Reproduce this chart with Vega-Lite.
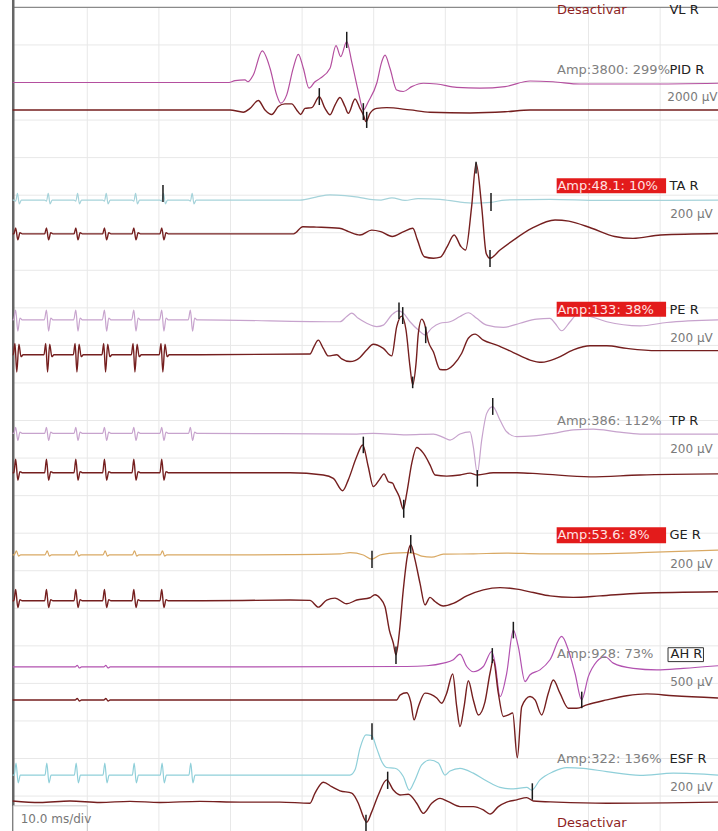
{
"$schema": "https://vega.github.io/schema/vega-lite/v6.json",
"width": 718, "height": 831,
"autosize": {"type": "none"},
"padding": 0,
"background": "white",
"config": {"view": {"stroke": null}},
"datasets": {
"gridx": [{"t":10},{"t":20},{"t":30},{"t":40},{"t":50},{"t":60},{"t":70},{"t":80},{"t":90}],
"gridy": [{"v":1},{"v":2},{"v":3},{"v":4},{"v":5},{"v":6},{"v":7},{"v":8},{"v":9},{"v":10},{"v":11},{"v":12},{"v":13},{"v":14},{"v":15},{"v":16},{"v":17},{"v":18},{"v":19},{"v":20},{"v":21}],
"light": [
{"s":"PID","t":-0.42,"v":2.00},{"s":"PID","t":29.79,"v":2.00},{"s":"PID","t":30.63,"v":1.95},{"s":"PID","t":32.02,"v":1.93},{"s":"PID","t":32.44,"v":1.98},{"s":"PID","t":33.18,"v":1.80},{"s":"PID","t":34.44,"v":1.16},{"s":"PID","t":35.52,"v":1.62},{"s":"PID","t":36.45,"v":2.33},{"s":"PID","t":37.01,"v":2.55},{"s":"PID","t":37.85,"v":2.33},{"s":"PID","t":38.77,"v":1.61},{"s":"PID","t":39.47,"v":1.25},{"s":"PID","t":40.17,"v":1.62},{"s":"PID","t":40.96,"v":2.15},{"s":"PID","t":41.80,"v":1.98},{"s":"PID","t":42.50,"v":1.89},{"s":"PID","t":43.90,"v":1.62},{"s":"PID","t":44.73,"v":1.02},{"s":"PID","t":45.39,"v":1.31},{"s":"PID","t":46.23,"v":0.91},{"s":"PID","t":46.93,"v":1.45},{"s":"PID","t":47.85,"v":2.24},{"s":"PID","t":48.55,"v":2.73},{"s":"PID","t":49.24,"v":2.51},{"s":"PID","t":50.42,"v":2.02},{"s":"PID","t":51.12,"v":1.45},{"s":"PID","t":51.58,"v":1.27},{"s":"PID","t":52.27,"v":1.62},{"s":"PID","t":53.21,"v":2.20},{"s":"PID","t":54.13,"v":2.24},{"s":"PID","t":55.31,"v":2.11},{"s":"PID","t":56.93,"v":2.02},{"s":"PID","t":58.80,"v":2.04},{"s":"PID","t":61.59,"v":2.13},{"s":"PID","t":64.84,"v":2.15},{"s":"PID","t":68.34,"v":2.11},{"s":"PID","t":71.83,"v":1.96},{"s":"PID","t":75.04,"v":1.98},{"s":"PID","t":78.81,"v":2.04},{"s":"PID","t":88.17,"v":2.04},{"s":"PID","t":98.08,"v":2.02},
{"s":"TA","t":-0.42,"v":5.13},
{"s":"TA","t":-0.25,"v":5.13},{"s":"TA","t":0.0,"v":5.16},{"s":"TA","t":0.25,"v":4.95},{"s":"TA","t":0.5,"v":5.23},{"s":"TA","t":0.8,"v":5.13},
{"s":"TA","t":4.05,"v":5.13},{"s":"TA","t":4.3,"v":5.16},{"s":"TA","t":4.55,"v":4.95},{"s":"TA","t":4.8,"v":5.23},{"s":"TA","t":5.1,"v":5.13},
{"s":"TA","t":8.15,"v":5.13},{"s":"TA","t":8.4,"v":5.16},{"s":"TA","t":8.65,"v":4.95},{"s":"TA","t":8.9,"v":5.23},{"s":"TA","t":9.2,"v":5.13},
{"s":"TA","t":12.15,"v":5.13},{"s":"TA","t":12.4,"v":5.16},{"s":"TA","t":12.65,"v":4.95},{"s":"TA","t":12.9,"v":5.23},{"s":"TA","t":13.2,"v":5.13},
{"s":"TA","t":16.25,"v":5.13},{"s":"TA","t":16.5,"v":5.16},{"s":"TA","t":16.75,"v":4.95},{"s":"TA","t":17.0,"v":5.23},{"s":"TA","t":17.3,"v":5.13},
{"s":"TA","t":20.15,"v":5.13},{"s":"TA","t":20.4,"v":5.16},{"s":"TA","t":20.65,"v":4.95},{"s":"TA","t":20.9,"v":5.23},{"s":"TA","t":21.2,"v":5.13},
{"s":"TA","t":24.15,"v":5.13},{"s":"TA","t":24.4,"v":5.16},{"s":"TA","t":24.65,"v":4.95},{"s":"TA","t":24.9,"v":5.23},{"s":"TA","t":25.2,"v":5.13},
{"s":"TA","t":25.74,"v":5.13},{"s":"TA","t":39.71,"v":5.13},{"s":"TA","t":41.94,"v":5.05},{"s":"TA","t":43.90,"v":4.99},{"s":"TA","t":45.99,"v":5.01},{"s":"TA","t":47.81,"v":5.05},{"s":"TA","t":49.48,"v":5.11},{"s":"TA","t":51.02,"v":5.13},{"s":"TA","t":52.55,"v":5.07},{"s":"TA","t":54.37,"v":5.14},{"s":"TA","t":56.19,"v":5.09},{"s":"TA","t":59.26,"v":5.11},{"s":"TA","t":61.91,"v":5.18},{"s":"TA","t":64.14,"v":5.21},{"s":"TA","t":66.38,"v":5.19},{"s":"TA","t":68.34,"v":5.13},{"s":"TA","t":74.62,"v":5.11},{"s":"TA","t":81.60,"v":5.14},{"s":"TA","t":88.59,"v":5.14},{"s":"TA","t":98.08,"v":5.13},
{"s":"PE","t":-0.42,"v":8.32},
{"s":"PE","t":-0.3,"v":8.32},{"s":"PE","t":0.0,"v":8.06},{"s":"PE","t":0.3,"v":8.62},{"s":"PE","t":0.6,"v":8.27},{"s":"PE","t":0.9,"v":8.32},
{"s":"PE","t":4.0,"v":8.32},{"s":"PE","t":4.3,"v":8.06},{"s":"PE","t":4.6,"v":8.62},{"s":"PE","t":4.9,"v":8.27},{"s":"PE","t":5.2,"v":8.32},
{"s":"PE","t":8.1,"v":8.32},{"s":"PE","t":8.4,"v":8.06},{"s":"PE","t":8.7,"v":8.62},{"s":"PE","t":9.0,"v":8.27},{"s":"PE","t":9.3,"v":8.32},
{"s":"PE","t":12.1,"v":8.32},{"s":"PE","t":12.4,"v":8.06},{"s":"PE","t":12.7,"v":8.62},{"s":"PE","t":13.0,"v":8.27},{"s":"PE","t":13.3,"v":8.32},
{"s":"PE","t":16.2,"v":8.32},{"s":"PE","t":16.5,"v":8.06},{"s":"PE","t":16.8,"v":8.62},{"s":"PE","t":17.1,"v":8.27},{"s":"PE","t":17.4,"v":8.32},
{"s":"PE","t":20.1,"v":8.32},{"s":"PE","t":20.4,"v":8.06},{"s":"PE","t":20.7,"v":8.62},{"s":"PE","t":21.0,"v":8.27},{"s":"PE","t":21.3,"v":8.32},
{"s":"PE","t":24.1,"v":8.32},{"s":"PE","t":24.4,"v":8.06},{"s":"PE","t":24.7,"v":8.62},{"s":"PE","t":25.0,"v":8.27},{"s":"PE","t":25.3,"v":8.32},
{"s":"PE","t":25.74,"v":8.32},{"s":"PE","t":45.29,"v":8.37},{"s":"PE","t":46.23,"v":8.23},{"s":"PE","t":46.93,"v":8.14},{"s":"PE","t":47.85,"v":8.28},{"s":"PE","t":49.02,"v":8.41},{"s":"PE","t":50.42,"v":8.50},{"s":"PE","t":51.34,"v":8.46},{"s":"PE","t":52.51,"v":8.19},{"s":"PE","t":53.43,"v":8.08},{"s":"PE","t":54.13,"v":8.14},{"s":"PE","t":55.07,"v":8.37},{"s":"PE","t":56.23,"v":8.59},{"s":"PE","t":57.16,"v":8.72},{"s":"PE","t":58.10,"v":8.54},{"s":"PE","t":59.26,"v":8.41},{"s":"PE","t":60.66,"v":8.37},{"s":"PE","t":62.05,"v":8.23},{"s":"PE","t":63.21,"v":8.13},{"s":"PE","t":64.38,"v":8.28},{"s":"PE","t":65.78,"v":8.46},{"s":"PE","t":68.10,"v":8.52},{"s":"PE","t":70.43,"v":8.41},{"s":"PE","t":72.76,"v":8.30},{"s":"PE","t":74.62,"v":8.28},{"s":"PE","t":75.32,"v":8.41},{"s":"PE","t":76.25,"v":8.61},{"s":"PE","t":77.42,"v":8.37},{"s":"PE","t":78.35,"v":8.19},{"s":"PE","t":80.21,"v":8.23},{"s":"PE","t":82.54,"v":8.37},{"s":"PE","t":87.19,"v":8.48},{"s":"PE","t":90.92,"v":8.39},{"s":"PE","t":98.08,"v":8.32},
{"s":"TP","t":-0.42,"v":11.34},
{"s":"TP","t":-0.25,"v":11.34},{"s":"TP","t":0.0,"v":11.18},{"s":"TP","t":0.3,"v":11.53},{"s":"TP","t":0.6,"v":11.31},{"s":"TP","t":0.9,"v":11.34},
{"s":"TP","t":4.05,"v":11.34},{"s":"TP","t":4.3,"v":11.18},{"s":"TP","t":4.6,"v":11.53},{"s":"TP","t":4.9,"v":11.31},{"s":"TP","t":5.2,"v":11.34},
{"s":"TP","t":8.15,"v":11.34},{"s":"TP","t":8.4,"v":11.18},{"s":"TP","t":8.7,"v":11.53},{"s":"TP","t":9.0,"v":11.31},{"s":"TP","t":9.3,"v":11.34},
{"s":"TP","t":12.15,"v":11.34},{"s":"TP","t":12.4,"v":11.18},{"s":"TP","t":12.7,"v":11.53},{"s":"TP","t":13.0,"v":11.31},{"s":"TP","t":13.3,"v":11.34},
{"s":"TP","t":16.25,"v":11.34},{"s":"TP","t":16.5,"v":11.18},{"s":"TP","t":16.8,"v":11.53},{"s":"TP","t":17.1,"v":11.31},{"s":"TP","t":17.4,"v":11.34},
{"s":"TP","t":20.15,"v":11.34},{"s":"TP","t":20.4,"v":11.18},{"s":"TP","t":20.7,"v":11.53},{"s":"TP","t":21.0,"v":11.31},{"s":"TP","t":21.3,"v":11.34},
{"s":"TP","t":24.15,"v":11.34},{"s":"TP","t":24.4,"v":11.18},{"s":"TP","t":24.7,"v":11.53},{"s":"TP","t":25.0,"v":11.31},{"s":"TP","t":25.3,"v":11.34},
{"s":"TP","t":25.74,"v":11.34},{"s":"TP","t":47.63,"v":11.36},{"s":"TP","t":49.94,"v":11.34},{"s":"TP","t":54.61,"v":11.38},{"s":"TP","t":58.33,"v":11.36},{"s":"TP","t":59.72,"v":11.45},{"s":"TP","t":60.66,"v":11.52},{"s":"TP","t":62.05,"v":11.36},{"s":"TP","t":63.45,"v":11.30},{"s":"TP","t":63.91,"v":11.70},{"s":"TP","t":64.47,"v":12.40},{"s":"TP","t":65.08,"v":11.52},{"s":"TP","t":65.78,"v":10.81},{"s":"TP","t":66.62,"v":10.63},{"s":"TP","t":67.64,"v":10.99},{"s":"TP","t":68.57,"v":11.30},{"s":"TP","t":69.97,"v":11.43},{"s":"TP","t":72.29,"v":11.41},{"s":"TP","t":75.08,"v":11.34},{"s":"TP","t":77.87,"v":11.25},{"s":"TP","t":80.67,"v":11.23},{"s":"TP","t":83.94,"v":11.30},{"s":"TP","t":87.19,"v":11.36},{"s":"TP","t":98.08,"v":11.36},
{"s":"GE","t":-0.42,"v":14.58},
{"s":"GE","t":-0.2,"v":14.58},{"s":"GE","t":0.1,"v":14.47},{"s":"GE","t":0.4,"v":14.61},{"s":"GE","t":0.7,"v":14.58},
{"s":"GE","t":4.1,"v":14.58},{"s":"GE","t":4.4,"v":14.47},{"s":"GE","t":4.7,"v":14.61},{"s":"GE","t":5.0,"v":14.58},
{"s":"GE","t":8.2,"v":14.58},{"s":"GE","t":8.5,"v":14.47},{"s":"GE","t":8.8,"v":14.61},{"s":"GE","t":9.1,"v":14.58},
{"s":"GE","t":12.2,"v":14.58},{"s":"GE","t":12.5,"v":14.47},{"s":"GE","t":12.8,"v":14.61},{"s":"GE","t":13.1,"v":14.58},
{"s":"GE","t":16.3,"v":14.58},{"s":"GE","t":16.6,"v":14.47},{"s":"GE","t":16.9,"v":14.61},{"s":"GE","t":17.2,"v":14.58},
{"s":"GE","t":20.2,"v":14.58},{"s":"GE","t":20.5,"v":14.47},{"s":"GE","t":20.8,"v":14.61},{"s":"GE","t":21.1,"v":14.58},
{"s":"GE","t":25.74,"v":14.58},{"s":"GE","t":38.31,"v":14.57},{"s":"GE","t":45.29,"v":14.55},{"s":"GE","t":46.69,"v":14.52},{"s":"GE","t":48.55,"v":14.58},{"s":"GE","t":49.72,"v":14.69},{"s":"GE","t":50.88,"v":14.58},{"s":"GE","t":52.74,"v":14.53},{"s":"GE","t":54.61,"v":14.52},{"s":"GE","t":55.53,"v":14.53},{"s":"GE","t":56.70,"v":14.61},{"s":"GE","t":58.10,"v":14.64},{"s":"GE","t":59.72,"v":14.56},{"s":"GE","t":63.91,"v":14.55},{"s":"GE","t":68.57,"v":14.53},{"s":"GE","t":73.22,"v":14.55},{"s":"GE","t":77.87,"v":14.55},{"s":"GE","t":87.19,"v":14.52},{"s":"GE","t":98.08,"v":14.45},
{"s":"AH","t":-0.42,"v":17.56},{"s":"AH","t":8.3,"v":17.56},{"s":"AH","t":8.6,"v":17.52},{"s":"AH","t":8.9,"v":17.59},{"s":"AH","t":9.2,"v":17.56},{"s":"AH","t":12.3,"v":17.56},{"s":"AH","t":12.6,"v":17.52},{"s":"AH","t":12.9,"v":17.59},{"s":"AH","t":13.2,"v":17.56},{"s":"AH","t":31.33,"v":17.56},{"s":"AH","t":54.61,"v":17.55},{"s":"AH","t":57.40,"v":17.53},{"s":"AH","t":59.72,"v":17.46},{"s":"AH","t":61.12,"v":17.37},{"s":"AH","t":62.05,"v":17.22},{"s":"AH","t":62.99,"v":17.55},{"s":"AH","t":63.91,"v":17.69},{"s":"AH","t":65.31,"v":17.55},{"s":"AH","t":66.48,"v":17.15},{"s":"AH","t":66.94,"v":17.46},{"s":"AH","t":67.64,"v":18.35},{"s":"AH","t":68.57,"v":17.73},{"s":"AH","t":69.50,"v":16.58},{"s":"AH","t":70.19,"v":17.02},{"s":"AH","t":71.13,"v":17.95},{"s":"AH","t":71.83,"v":17.77},{"s":"AH","t":73.22,"v":17.64},{"s":"AH","t":74.62,"v":17.37},{"s":"AH","t":76.25,"v":16.75},{"s":"AH","t":77.18,"v":17.11},{"s":"AH","t":78.11,"v":17.73},{"s":"AH","t":79.05,"v":18.44},{"s":"AH","t":79.97,"v":17.82},{"s":"AH","t":81.14,"v":17.42},{"s":"AH","t":82.30,"v":17.29},{"s":"AH","t":83.46,"v":17.46},{"s":"AH","t":86.25,"v":17.60},{"s":"AH","t":89.52,"v":17.64},{"s":"AH","t":93.24,"v":17.60},{"s":"AH","t":98.08,"v":17.53},
{"s":"ESF","t":-0.42,"v":20.44},
{"s":"ESF","t":-0.2,"v":20.44},{"s":"ESF","t":0.05,"v":20.12},{"s":"ESF","t":0.35,"v":20.65},{"s":"ESF","t":0.65,"v":20.44},
{"s":"ESF","t":4.1,"v":20.44},{"s":"ESF","t":4.35,"v":20.12},{"s":"ESF","t":4.65,"v":20.65},{"s":"ESF","t":4.95,"v":20.44},
{"s":"ESF","t":8.2,"v":20.44},{"s":"ESF","t":8.45,"v":20.12},{"s":"ESF","t":8.75,"v":20.65},{"s":"ESF","t":9.05,"v":20.44},
{"s":"ESF","t":12.2,"v":20.44},{"s":"ESF","t":12.45,"v":20.12},{"s":"ESF","t":12.75,"v":20.65},{"s":"ESF","t":13.05,"v":20.44},
{"s":"ESF","t":16.3,"v":20.44},{"s":"ESF","t":16.55,"v":20.12},{"s":"ESF","t":16.85,"v":20.65},{"s":"ESF","t":17.15,"v":20.44},
{"s":"ESF","t":20.2,"v":20.44},{"s":"ESF","t":20.45,"v":20.12},{"s":"ESF","t":20.75,"v":20.65},{"s":"ESF","t":21.05,"v":20.44},
{"s":"ESF","t":24.2,"v":20.44},{"s":"ESF","t":24.45,"v":20.12},{"s":"ESF","t":24.75,"v":20.65},{"s":"ESF","t":25.05,"v":20.44},
{"s":"ESF","t":25.74,"v":20.44},{"s":"ESF","t":46.69,"v":20.44},{"s":"ESF","t":47.39,"v":20.30},{"s":"ESF","t":48.08,"v":19.73},{"s":"ESF","t":48.92,"v":19.37},{"s":"ESF","t":49.72,"v":19.39},{"s":"ESF","t":50.42,"v":19.73},{"s":"ESF","t":51.12,"v":20.08},{"s":"ESF","t":51.81,"v":20.24},{"s":"ESF","t":52.97,"v":20.26},{"s":"ESF","t":54.13,"v":20.48},{"s":"ESF","t":54.97,"v":20.84},{"s":"ESF","t":55.77,"v":20.57},{"s":"ESF","t":56.70,"v":20.17},{"s":"ESF","t":57.86,"v":20.04},{"s":"ESF","t":59.02,"v":20.12},{"s":"ESF","t":59.96,"v":20.44},{"s":"ESF","t":60.66,"v":20.33},{"s":"ESF","t":62.05,"v":20.26},{"s":"ESF","t":63.91,"v":20.39},{"s":"ESF","t":65.78,"v":20.60},{"s":"ESF","t":67.64,"v":20.77},{"s":"ESF","t":69.50,"v":20.81},{"s":"ESF","t":71.37,"v":20.77},{"s":"ESF","t":72.06,"v":20.84},{"s":"ESF","t":73.22,"v":20.57},{"s":"ESF","t":75.08,"v":20.35},{"s":"ESF","t":76.95,"v":20.24},{"s":"ESF","t":79.27,"v":20.26},{"s":"ESF","t":82.54,"v":20.35},{"s":"ESF","t":87.19,"v":20.45},{"s":"ESF","t":91.84,"v":20.39},{"s":"ESF","t":98.08,"v":20.44}
],
"dark": [
{"s":"PID","t":-0.42,"v":2.73},{"s":"PID","t":29.93,"v":2.73},{"s":"PID","t":31.79,"v":2.79},{"s":"PID","t":32.72,"v":2.69},{"s":"PID","t":33.88,"v":2.48},{"s":"PID","t":34.82,"v":2.73},{"s":"PID","t":35.75,"v":2.85},{"s":"PID","t":36.67,"v":2.64},{"s":"PID","t":37.61,"v":2.57},{"s":"PID","t":38.55,"v":2.57},{"s":"PID","t":39.24,"v":2.73},{"s":"PID","t":39.80,"v":2.85},{"s":"PID","t":40.40,"v":2.69},{"s":"PID","t":41.34,"v":2.67},{"s":"PID","t":42.40,"v":2.38},{"s":"PID","t":43.20,"v":2.69},{"s":"PID","t":43.90,"v":2.86},{"s":"PID","t":44.59,"v":2.60},{"s":"PID","t":45.29,"v":2.40},{"s":"PID","t":45.99,"v":2.64},{"s":"PID","t":46.45,"v":2.82},{"s":"PID","t":47.39,"v":2.44},{"s":"PID","t":48.08,"v":2.69},{"s":"PID","t":48.55,"v":2.86},{"s":"PID","t":48.92,"v":3.04},{"s":"PID","t":49.48,"v":2.82},{"s":"PID","t":50.42,"v":2.69},{"s":"PID","t":51.81,"v":2.67},{"s":"PID","t":55.07,"v":2.73},{"s":"PID","t":57.86,"v":2.79},{"s":"PID","t":63.45,"v":2.81},{"s":"PID","t":68.34,"v":2.78},{"s":"PID","t":71.83,"v":2.73},{"s":"PID","t":98.08,"v":2.73},
{"s":"TA","t":-0.42,"v":6.03},
{"s":"TA","t":-0.25,"v":6.03},{"s":"TA","t":0.0,"v":5.87},{"s":"TA","t":0.3,"v":6.19},{"s":"TA","t":0.6,"v":6.00},{"s":"TA","t":0.9,"v":6.03},
{"s":"TA","t":4.05,"v":6.03},{"s":"TA","t":4.3,"v":5.87},{"s":"TA","t":4.6,"v":6.19},{"s":"TA","t":4.9,"v":6.00},{"s":"TA","t":5.2,"v":6.03},
{"s":"TA","t":8.15,"v":6.03},{"s":"TA","t":8.4,"v":5.87},{"s":"TA","t":8.7,"v":6.19},{"s":"TA","t":9.0,"v":6.00},{"s":"TA","t":9.3,"v":6.03},
{"s":"TA","t":12.15,"v":6.03},{"s":"TA","t":12.4,"v":5.87},{"s":"TA","t":12.7,"v":6.19},{"s":"TA","t":13.0,"v":6.00},{"s":"TA","t":13.3,"v":6.03},
{"s":"TA","t":16.25,"v":6.03},{"s":"TA","t":16.5,"v":5.87},{"s":"TA","t":16.8,"v":6.19},{"s":"TA","t":17.1,"v":6.00},{"s":"TA","t":17.4,"v":6.03},
{"s":"TA","t":20.15,"v":6.03},{"s":"TA","t":20.4,"v":5.87},{"s":"TA","t":20.7,"v":6.19},{"s":"TA","t":21.0,"v":6.00},{"s":"TA","t":21.3,"v":6.03},
{"s":"TA","t":25.74,"v":6.03},{"s":"TA","t":38.81,"v":6.03},{"s":"TA","t":40.10,"v":5.84},{"s":"TA","t":42.01,"v":5.85},{"s":"TA","t":45.21,"v":5.88},{"s":"TA","t":46.49,"v":5.97},{"s":"TA","t":48.08,"v":6.06},{"s":"TA","t":49.71,"v":5.93},{"s":"TA","t":50.98,"v":5.97},{"s":"TA","t":52.58,"v":6.10},{"s":"TA","t":54.19,"v":5.97},{"s":"TA","t":55.46,"v":5.88},{"s":"TA","t":56.10,"v":6.19},{"s":"TA","t":57.07,"v":6.64},{"s":"TA","t":58.35,"v":6.68},{"s":"TA","t":59.31,"v":6.65},{"s":"TA","t":60.26,"v":6.37},{"s":"TA","t":61.23,"v":6.06},{"s":"TA","t":62.19,"v":6.37},{"s":"TA","t":62.83,"v":6.46},{"s":"TA","t":63.67,"v":5.31},{"s":"TA","t":64.30,"v":4.15},{"s":"TA","t":65.08,"v":5.31},{"s":"TA","t":65.71,"v":6.55},{"s":"TA","t":66.23,"v":6.68},{"s":"TA","t":67.64,"v":6.46},{"s":"TA","t":69.56,"v":6.19},{"s":"TA","t":72.12,"v":5.88},{"s":"TA","t":75.32,"v":5.66},{"s":"TA","t":77.25,"v":5.69},{"s":"TA","t":80.44,"v":5.88},{"s":"TA","t":83.66,"v":6.10},{"s":"TA","t":86.21,"v":6.15},{"s":"TA","t":90.07,"v":6.06},{"s":"TA","t":98.08,"v":6.02},
{"s":"PE","t":-0.42,"v":9.25},
{"s":"PE","t":-0.35,"v":9.25},{"s":"PE","t":-0.1,"v":8.95},{"s":"PE","t":0.15,"v":9.71},{"s":"PE","t":0.45,"v":8.97},{"s":"PE","t":0.75,"v":9.30},{"s":"PE","t":1.05,"v":9.25},
{"s":"PE","t":3.95,"v":9.25},{"s":"PE","t":4.2,"v":8.95},{"s":"PE","t":4.45,"v":9.71},{"s":"PE","t":4.75,"v":8.97},{"s":"PE","t":5.05,"v":9.30},{"s":"PE","t":5.35,"v":9.25},
{"s":"PE","t":8.05,"v":9.25},{"s":"PE","t":8.3,"v":8.95},{"s":"PE","t":8.55,"v":9.71},{"s":"PE","t":8.85,"v":8.97},{"s":"PE","t":9.15,"v":9.30},{"s":"PE","t":9.45,"v":9.25},
{"s":"PE","t":12.05,"v":9.25},{"s":"PE","t":12.3,"v":8.95},{"s":"PE","t":12.55,"v":9.71},{"s":"PE","t":12.85,"v":8.97},{"s":"PE","t":13.15,"v":9.30},{"s":"PE","t":13.45,"v":9.25},
{"s":"PE","t":16.15,"v":9.25},{"s":"PE","t":16.4,"v":8.95},{"s":"PE","t":16.65,"v":9.71},{"s":"PE","t":16.95,"v":8.97},{"s":"PE","t":17.25,"v":9.30},{"s":"PE","t":17.55,"v":9.25},
{"s":"PE","t":20.05,"v":9.25},{"s":"PE","t":20.3,"v":8.95},{"s":"PE","t":20.55,"v":9.71},{"s":"PE","t":20.85,"v":8.97},{"s":"PE","t":21.15,"v":9.30},{"s":"PE","t":21.45,"v":9.25},
{"s":"PE","t":25.74,"v":9.25},{"s":"PE","t":41.10,"v":9.23},{"s":"PE","t":41.66,"v":9.03},{"s":"PE","t":42.26,"v":8.86},{"s":"PE","t":42.96,"v":9.08},{"s":"PE","t":43.66,"v":9.28},{"s":"PE","t":44.83,"v":9.25},{"s":"PE","t":45.53,"v":9.36},{"s":"PE","t":46.69,"v":9.43},{"s":"PE","t":48.08,"v":9.32},{"s":"PE","t":49.02,"v":9.12},{"s":"PE","t":49.94,"v":8.97},{"s":"PE","t":51.34,"v":9.08},{"s":"PE","t":52.51,"v":9.28},{"s":"PE","t":53.21,"v":8.50},{"s":"PE","t":53.91,"v":8.22},{"s":"PE","t":54.51,"v":8.59},{"s":"PE","t":55.07,"v":9.57},{"s":"PE","t":55.44,"v":10.05},{"s":"PE","t":55.91,"v":9.48},{"s":"PE","t":56.23,"v":8.68},{"s":"PE","t":56.70,"v":8.30},{"s":"PE","t":57.07,"v":8.41},{"s":"PE","t":57.63,"v":8.90},{"s":"PE","t":58.33,"v":9.17},{"s":"PE","t":59.26,"v":9.64},{"s":"PE","t":59.96,"v":9.65},{"s":"PE","t":61.12,"v":9.52},{"s":"PE","t":62.29,"v":9.21},{"s":"PE","t":63.21,"v":8.81},{"s":"PE","t":64.15,"v":8.70},{"s":"PE","t":65.31,"v":8.86},{"s":"PE","t":67.18,"v":8.99},{"s":"PE","t":69.50,"v":9.19},{"s":"PE","t":71.83,"v":9.39},{"s":"PE","t":73.46,"v":9.45},{"s":"PE","t":75.56,"v":9.34},{"s":"PE","t":77.87,"v":9.12},{"s":"PE","t":80.21,"v":9.01},{"s":"PE","t":82.54,"v":9.01},{"s":"PE","t":85.33,"v":9.08},{"s":"PE","t":89.52,"v":9.14},{"s":"PE","t":98.08,"v":9.14},
{"s":"TP","t":-0.42,"v":12.39},
{"s":"TP","t":-0.25,"v":12.39},{"s":"TP","t":0.0,"v":12.03},{"s":"TP","t":0.3,"v":12.59},{"s":"TP","t":0.6,"v":12.36},{"s":"TP","t":0.9,"v":12.39},
{"s":"TP","t":4.05,"v":12.39},{"s":"TP","t":4.3,"v":12.03},{"s":"TP","t":4.6,"v":12.59},{"s":"TP","t":4.9,"v":12.36},{"s":"TP","t":5.2,"v":12.39},
{"s":"TP","t":8.15,"v":12.39},{"s":"TP","t":8.4,"v":12.03},{"s":"TP","t":8.7,"v":12.59},{"s":"TP","t":9.0,"v":12.36},{"s":"TP","t":9.3,"v":12.39},
{"s":"TP","t":12.15,"v":12.39},{"s":"TP","t":12.4,"v":12.03},{"s":"TP","t":12.7,"v":12.59},{"s":"TP","t":13.0,"v":12.36},{"s":"TP","t":13.3,"v":12.39},
{"s":"TP","t":16.25,"v":12.39},{"s":"TP","t":16.5,"v":12.03},{"s":"TP","t":16.8,"v":12.59},{"s":"TP","t":17.1,"v":12.36},{"s":"TP","t":17.4,"v":12.39},
{"s":"TP","t":20.15,"v":12.39},{"s":"TP","t":20.4,"v":12.03},{"s":"TP","t":20.7,"v":12.59},{"s":"TP","t":21.0,"v":12.36},{"s":"TP","t":21.3,"v":12.39},
{"s":"TP","t":25.74,"v":12.39},{"s":"TP","t":38.31,"v":12.39},{"s":"TP","t":42.96,"v":12.45},{"s":"TP","t":44.36,"v":12.54},{"s":"TP","t":45.67,"v":12.87},{"s":"TP","t":46.45,"v":12.58},{"s":"TP","t":47.63,"v":11.96},{"s":"TP","t":48.46,"v":11.65},{"s":"TP","t":49.24,"v":12.23},{"s":"TP","t":49.94,"v":12.76},{"s":"TP","t":50.78,"v":12.58},{"s":"TP","t":51.44,"v":12.42},{"s":"TP","t":52.04,"v":12.63},{"s":"TP","t":52.65,"v":12.67},{"s":"TP","t":52.97,"v":12.80},{"s":"TP","t":53.57,"v":13.03},{"s":"TP","t":54.13,"v":13.36},{"s":"TP","t":54.61,"v":12.94},{"s":"TP","t":55.31,"v":12.14},{"s":"TP","t":56.00,"v":11.72},{"s":"TP","t":56.93,"v":11.87},{"s":"TP","t":57.86,"v":12.18},{"s":"TP","t":58.56,"v":12.45},{"s":"TP","t":60.19,"v":12.48},{"s":"TP","t":62.05,"v":12.45},{"s":"TP","t":63.45,"v":12.40},{"s":"TP","t":64.47,"v":12.45},{"s":"TP","t":66.70,"v":12.39},{"s":"TP","t":69.97,"v":12.39},{"s":"TP","t":73.22,"v":12.42},{"s":"TP","t":80.21,"v":12.50},{"s":"TP","t":87.19,"v":12.45},{"s":"TP","t":98.08,"v":12.42},
{"s":"GE","t":-0.42,"v":15.80},
{"s":"GE","t":-0.25,"v":15.80},{"s":"GE","t":0.0,"v":15.50},{"s":"GE","t":0.3,"v":15.98},{"s":"GE","t":0.6,"v":15.77},{"s":"GE","t":0.9,"v":15.80},
{"s":"GE","t":4.05,"v":15.80},{"s":"GE","t":4.3,"v":15.50},{"s":"GE","t":4.6,"v":15.98},{"s":"GE","t":4.9,"v":15.77},{"s":"GE","t":5.2,"v":15.80},
{"s":"GE","t":8.15,"v":15.80},{"s":"GE","t":8.4,"v":15.50},{"s":"GE","t":8.7,"v":15.98},{"s":"GE","t":9.0,"v":15.77},{"s":"GE","t":9.3,"v":15.80},
{"s":"GE","t":12.15,"v":15.80},{"s":"GE","t":12.4,"v":15.50},{"s":"GE","t":12.7,"v":15.98},{"s":"GE","t":13.0,"v":15.77},{"s":"GE","t":13.3,"v":15.80},
{"s":"GE","t":16.25,"v":15.80},{"s":"GE","t":16.5,"v":15.50},{"s":"GE","t":16.8,"v":15.98},{"s":"GE","t":17.1,"v":15.77},{"s":"GE","t":17.4,"v":15.80},
{"s":"GE","t":20.15,"v":15.80},{"s":"GE","t":20.4,"v":15.50},{"s":"GE","t":20.7,"v":15.98},{"s":"GE","t":21.0,"v":15.77},{"s":"GE","t":21.3,"v":15.80},
{"s":"GE","t":25.74,"v":15.80},{"s":"GE","t":38.31,"v":15.78},{"s":"GE","t":41.10,"v":15.79},{"s":"GE","t":42.26,"v":15.97},{"s":"GE","t":43.43,"v":15.78},{"s":"GE","t":44.59,"v":15.73},{"s":"GE","t":46.23,"v":15.88},{"s":"GE","t":47.63,"v":15.78},{"s":"GE","t":49.48,"v":15.72},{"s":"GE","t":50.18,"v":15.64},{"s":"GE","t":50.88,"v":15.73},{"s":"GE","t":51.58,"v":15.96},{"s":"GE","t":52.18,"v":16.58},{"s":"GE","t":52.74,"v":16.93},{"s":"GE","t":53.11,"v":17.24},{"s":"GE","t":53.57,"v":16.66},{"s":"GE","t":54.13,"v":15.51},{"s":"GE","t":54.69,"v":14.62},{"s":"GE","t":55.17,"v":14.31},{"s":"GE","t":55.77,"v":14.71},{"s":"GE","t":56.46,"v":15.33},{"s":"GE","t":57.16,"v":15.91},{"s":"GE","t":57.86,"v":15.71},{"s":"GE","t":58.56,"v":15.82},{"s":"GE","t":59.72,"v":15.94},{"s":"GE","t":61.12,"v":15.87},{"s":"GE","t":62.99,"v":15.67},{"s":"GE","t":65.31,"v":15.51},{"s":"GE","t":67.64,"v":15.45},{"s":"GE","t":69.97,"v":15.49},{"s":"GE","t":72.29,"v":15.58},{"s":"GE","t":74.62,"v":15.67},{"s":"GE","t":77.87,"v":15.71},{"s":"GE","t":81.60,"v":15.67},{"s":"GE","t":87.19,"v":15.60},{"s":"GE","t":98.08,"v":15.56},
{"s":"AH","t":-0.42,"v":18.44},{"s":"AH","t":8.3,"v":18.44},{"s":"AH","t":8.6,"v":18.40},{"s":"AH","t":8.9,"v":18.47},{"s":"AH","t":9.2,"v":18.44},{"s":"AH","t":12.3,"v":18.44},{"s":"AH","t":12.6,"v":18.40},{"s":"AH","t":12.9,"v":18.47},{"s":"AH","t":13.2,"v":18.44},{"s":"AH","t":31.33,"v":18.44},{"s":"AH","t":53.21,"v":18.44},{"s":"AH","t":53.67,"v":18.31},{"s":"AH","t":54.61,"v":18.25},{"s":"AH","t":55.17,"v":18.49},{"s":"AH","t":55.63,"v":18.97},{"s":"AH","t":56.23,"v":18.62},{"s":"AH","t":57.16,"v":18.26},{"s":"AH","t":58.80,"v":18.39},{"s":"AH","t":59.49,"v":18.53},{"s":"AH","t":60.19,"v":18.26},{"s":"AH","t":61.03,"v":17.75},{"s":"AH","t":61.59,"v":18.62},{"s":"AH","t":62.05,"v":19.15},{"s":"AH","t":62.62,"v":18.62},{"s":"AH","t":63.21,"v":17.93},{"s":"AH","t":63.91,"v":18.44},{"s":"AH","t":64.61,"v":18.84},{"s":"AH","t":65.54,"v":18.49},{"s":"AH","t":66.24,"v":17.73},{"s":"AH","t":66.70,"v":17.37},{"s":"AH","t":67.40,"v":18.26},{"s":"AH","t":68.10,"v":18.88},{"s":"AH","t":68.80,"v":18.84},{"s":"AH","t":69.41,"v":18.79},{"s":"AH","t":70.05,"v":19.98},{"s":"AH","t":70.67,"v":18.62},{"s":"AH","t":71.83,"v":18.35},{"s":"AH","t":72.53,"v":18.44},{"s":"AH","t":73.46,"v":18.84},{"s":"AH","t":74.38,"v":18.26},{"s":"AH","t":75.08,"v":17.91},{"s":"AH","t":76.01,"v":18.26},{"s":"AH","t":77.18,"v":18.66},{"s":"AH","t":78.35,"v":18.66},{"s":"AH","t":79.75,"v":18.57},{"s":"AH","t":82.54,"v":18.44},{"s":"AH","t":85.33,"v":18.33},{"s":"AH","t":88.13,"v":18.28},{"s":"AH","t":91.84,"v":18.33},{"s":"AH","t":98.08,"v":18.39},
{"s":"ESF","t":-0.42,"v":21.13},{"s":"ESF","t":3.39,"v":21.17},{"s":"ESF","t":7.58,"v":21.13},{"s":"ESF","t":11.77,"v":21.17},{"s":"ESF","t":15.96,"v":21.14},{"s":"ESF","t":20.15,"v":21.17},{"s":"ESF","t":25.74,"v":21.14},{"s":"ESF","t":31.33,"v":21.16},{"s":"ESF","t":36.91,"v":21.16},{"s":"ESF","t":41.10,"v":21.19},{"s":"ESF","t":41.80,"v":20.92},{"s":"ESF","t":42.96,"v":20.63},{"s":"ESF","t":44.13,"v":20.75},{"s":"ESF","t":45.29,"v":20.86},{"s":"ESF","t":46.93,"v":20.92},{"s":"ESF","t":47.85,"v":21.19},{"s":"ESF","t":48.64,"v":21.59},{"s":"ESF","t":49.02,"v":21.70},{"s":"ESF","t":49.72,"v":21.42},{"s":"ESF","t":50.64,"v":20.97},{"s":"ESF","t":51.81,"v":20.57},{"s":"ESF","t":52.74,"v":20.84},{"s":"ESF","t":53.67,"v":20.97},{"s":"ESF","t":54.83,"v":20.95},{"s":"ESF","t":56.00,"v":21.19},{"s":"ESF","t":56.93,"v":21.46},{"s":"ESF","t":58.10,"v":21.19},{"s":"ESF","t":59.26,"v":21.06},{"s":"ESF","t":60.42,"v":21.15},{"s":"ESF","t":62.05,"v":21.28},{"s":"ESF","t":63.91,"v":21.28},{"s":"ESF","t":65.31,"v":21.37},{"s":"ESF","t":66.24,"v":21.48},{"s":"ESF","t":67.40,"v":21.28},{"s":"ESF","t":68.57,"v":21.16},{"s":"ESF","t":69.97,"v":21.10},{"s":"ESF","t":71.37,"v":21.04},{"s":"ESF","t":72.29,"v":21.13},{"s":"ESF","t":75.56,"v":21.16},{"s":"ESF","t":82.54,"v":21.19},{"s":"ESF","t":98.08,"v":21.16}
],
"markers": [
{"t":46.23,"a":0.65,"b":1.08},{"t":42.40,"a":2.15,"b":2.60},{"t":48.55,"a":2.55,"b":3.00},{"t":49.02,"a":2.78,"b":3.21},
{"t":20.57,"a":4.73,"b":5.18},{"t":66.38,"a":4.94,"b":5.42},{"t":64.29,"a":4.11,"b":4.42},{"t":66.24,"a":6.46,"b":6.91},
{"t":53.53,"a":7.86,"b":8.30},{"t":54.05,"a":7.98,"b":8.43},{"t":57.26,"a":8.50,"b":8.94},{"t":55.44,"a":9.83,"b":10.14},
{"t":64.47,"a":12.32,"b":12.76},{"t":66.62,"a":10.40,"b":10.85},{"t":48.55,"a":11.43,"b":11.87},{"t":54.19,"a":13.11,"b":13.59},
{"t":49.76,"a":14.47,"b":14.93},{"t":53.11,"a":17.02,"b":17.48},{"t":55.17,"a":14.05,"b":14.53},
{"t":66.56,"a":17.06,"b":17.46},{"t":69.50,"a":16.36,"b":16.80},{"t":79.05,"a":18.22,"b":18.66},
{"t":49.76,"a":19.06,"b":19.50},{"t":72.15,"a":20.66,"b":21.10},{"t":48.92,"a":21.50,"b":21.95},{"t":51.95,"a":20.35,"b":20.81}
],
"amp": [{"t":75.6,"v":1.67,"text":"Amp:3800: 299%"},{"t":75.6,"v":11.01,"text":"Amp:386: 112%"},{"t":75.6,"v":17.22,"text":"Amp:928: 73%"},{"t":75.6,"v":20.02,"text":"Amp:322: 136%"}],
"boxes": [{"t":75.55,"t2":90.83,"v":4.55,"v2":4.95},{"t":75.55,"t2":90.83,"v":7.84,"v2":8.24},{"t":75.55,"t2":90.83,"v":13.84,"v2":14.27}],
"boxtext": [{"t":75.65,"v":4.76,"text":"Amp:48.1: 10%"},{"t":75.65,"v":8.05,"text":"Amp:133: 38%"},{"t":75.65,"v":14.06,"text":"Amp:53.6: 8%"}],
"names": [{"t":91.3,"v":0.07,"text":"VL R"},{"t":91.3,"v":1.67,"text":"PID R"},{"t":91.3,"v":4.76,"text":"TA R"},{"t":91.3,"v":8.05,"text":"PE R"},{"t":91.3,"v":11.01,"text":"TP R"},{"t":91.3,"v":14.06,"text":"GE R"},{"t":91.45,"v":17.23,"text":"AH R"},{"t":91.3,"v":20.02,"text":"ESF R"}],
"gains": [{"t":91.0,"v":2.39,"text":"2000 µV"},{"t":91.4,"v":5.51,"text":"200 µV"},{"t":91.4,"v":8.81,"text":"200 µV"},{"t":91.4,"v":11.76,"text":"200 µV"},{"t":91.4,"v":14.82,"text":"200 µV"},{"t":91.4,"v":17.97,"text":"500 µV"},{"t":91.4,"v":20.76,"text":"200 µV"}],
"ahbox": [{"t":91.1,"t2":96.05,"v":17.05,"v2":17.42}],
"desact": [{"t":75.6,"v":0.07,"text":"Desactivar"},{"t":75.6,"v":21.72,"text":"Desactivar"}],
"scalebox": [{"t":-0.34,"t2":10.0,"v":21.26,"v2":22.3}],
"scaletext": [{"t":0.7,"v":21.62,"text":"10.0 ms/div"}],
"topborder": [{"t":-0.34,"t2":98.08,"v":0}],
"leftborder": [{"t":-0.34,"v":-0.2,"v2":22.3}]
},
"layer": [
{"data":{"name":"gridx"},"mark":{"type":"rule","color":"#e8e8e8","strokeWidth":1},
 "encoding":{"x":{"field":"t","type":"quantitative","scale":{"domain":[-2.19,98.08],"nice":false,"zero":false},"axis":null},
  "y":{"datum":0,"type":"quantitative","scale":{"domain":[-0.197,21.93],"nice":false,"zero":false,"reverse":true},"axis":null},
  "y2":{"datum":22.3}}},
{"data":{"name":"gridy"},"mark":{"type":"rule","color":"#e8e8e8","strokeWidth":1},
 "encoding":{"y":{"field":"v","type":"quantitative","scale":{"domain":[-0.197,21.93],"nice":false,"zero":false,"reverse":true},"axis":null},
  "x":{"datum":-0.34,"type":"quantitative","scale":{"domain":[-2.19,98.08],"nice":false,"zero":false},"axis":null},
  "x2":{"datum":98.08}}},
{"data":{"name":"topborder"},"mark":{"type":"rule","color":"#8a8a8a","strokeWidth":1.3},
 "encoding":{"x":{"field":"t","type":"quantitative","scale":{"domain":[-2.19,98.08],"nice":false,"zero":false},"axis":null},"x2":{"field":"t2"},
  "y":{"field":"v","type":"quantitative","scale":{"domain":[-0.197,21.93],"nice":false,"zero":false,"reverse":true},"axis":null}}},
{"data":{"name":"leftborder"},"mark":{"type":"rule","color":"#666666","strokeWidth":2.5},
 "encoding":{"x":{"field":"t","type":"quantitative","scale":{"domain":[-2.19,98.08],"nice":false,"zero":false},"axis":null},
  "y":{"field":"v","type":"quantitative","scale":{"domain":[-0.197,21.93],"nice":false,"zero":false,"reverse":true},"axis":null},"y2":{"field":"v2"}}},
{"data":{"name":"light"},"mark":{"type":"line","strokeWidth":1.2,"clip":true,"interpolate":"monotone"},
 "encoding":{"x":{"field":"t","type":"quantitative","scale":{"domain":[-2.19,98.08],"nice":false,"zero":false},"axis":null},
  "y":{"field":"v","type":"quantitative","scale":{"domain":[-0.197,21.93],"nice":false,"zero":false,"reverse":true},"axis":null},
  "color":{"field":"s","type":"nominal","scale":{"domain":["PID","TA","PE","TP","GE","AH","ESF"],"range":["#b44f9f","#a6d3da","#c7a3cd","#c7a3cd","#d9a964","#b252b0","#8fcfd9"]},"legend":null}}},
{"data":{"name":"dark"},"mark":{"type":"line","strokeWidth":1.4,"clip":true,"color":"#751f1f","interpolate":"monotone"},
 "encoding":{"x":{"field":"t","type":"quantitative","scale":{"domain":[-2.19,98.08],"nice":false,"zero":false},"axis":null},
  "y":{"field":"v","type":"quantitative","scale":{"domain":[-0.197,21.93],"nice":false,"zero":false,"reverse":true},"axis":null},
  "detail":{"field":"s","type":"nominal"}}},
{"data":{"name":"markers"},"mark":{"type":"rule","color":"#1a1a1a","strokeWidth":1.5,"clip":true},
 "encoding":{"x":{"field":"t","type":"quantitative","scale":{"domain":[-2.19,98.08],"nice":false,"zero":false},"axis":null},
  "y":{"field":"a","type":"quantitative","scale":{"domain":[-0.197,21.93],"nice":false,"zero":false,"reverse":true},"axis":null},"y2":{"field":"b"}}},
{"data":{"name":"boxes"},"mark":{"type":"rect","color":"#e31b1b"},
 "encoding":{"x":{"field":"t","type":"quantitative","scale":{"domain":[-2.19,98.08],"nice":false,"zero":false},"axis":null},"x2":{"field":"t2"},
  "y":{"field":"v","type":"quantitative","scale":{"domain":[-0.197,21.93],"nice":false,"zero":false,"reverse":true},"axis":null},"y2":{"field":"v2"}}},
{"data":{"name":"ahbox"},"mark":{"type":"rect","filled":false,"stroke":"#333333","strokeWidth":1},
 "encoding":{"x":{"field":"t","type":"quantitative","scale":{"domain":[-2.19,98.08],"nice":false,"zero":false},"axis":null},"x2":{"field":"t2"},
  "y":{"field":"v","type":"quantitative","scale":{"domain":[-0.197,21.93],"nice":false,"zero":false,"reverse":true},"axis":null},"y2":{"field":"v2"}}},
{"data":{"name":"amp"},"mark":{"type":"text","align":"left","baseline":"middle","font":"DejaVu Sans","fontSize":13,"color":"#808080"},
 "encoding":{"x":{"field":"t","type":"quantitative","scale":{"domain":[-2.19,98.08],"nice":false,"zero":false},"axis":null},
  "y":{"field":"v","type":"quantitative","scale":{"domain":[-0.197,21.93],"nice":false,"zero":false,"reverse":true},"axis":null},"text":{"field":"text"}}},
{"data":{"name":"boxtext"},"mark":{"type":"text","align":"left","baseline":"middle","font":"DejaVu Sans","fontSize":13,"color":"#ffe2e2"},
 "encoding":{"x":{"field":"t","type":"quantitative","scale":{"domain":[-2.19,98.08],"nice":false,"zero":false},"axis":null},
  "y":{"field":"v","type":"quantitative","scale":{"domain":[-0.197,21.93],"nice":false,"zero":false,"reverse":true},"axis":null},"text":{"field":"text"}}},
{"data":{"name":"names"},"mark":{"type":"text","align":"left","baseline":"middle","font":"DejaVu Sans","fontSize":13,"color":"#222222"},
 "encoding":{"x":{"field":"t","type":"quantitative","scale":{"domain":[-2.19,98.08],"nice":false,"zero":false},"axis":null},
  "y":{"field":"v","type":"quantitative","scale":{"domain":[-0.197,21.93],"nice":false,"zero":false,"reverse":true},"axis":null},"text":{"field":"text"}}},
{"data":{"name":"gains"},"mark":{"type":"text","align":"left","baseline":"middle","font":"DejaVu Sans","fontSize":12,"color":"#7a7a7a"},
 "encoding":{"x":{"field":"t","type":"quantitative","scale":{"domain":[-2.19,98.08],"nice":false,"zero":false},"axis":null},
  "y":{"field":"v","type":"quantitative","scale":{"domain":[-0.197,21.93],"nice":false,"zero":false,"reverse":true},"axis":null},"text":{"field":"text"}}},
{"data":{"name":"desact"},"mark":{"type":"text","align":"left","baseline":"middle","font":"DejaVu Sans","fontSize":13,"color":"#8e1f1f"},
 "encoding":{"x":{"field":"t","type":"quantitative","scale":{"domain":[-2.19,98.08],"nice":false,"zero":false},"axis":null},
  "y":{"field":"v","type":"quantitative","scale":{"domain":[-0.197,21.93],"nice":false,"zero":false,"reverse":true},"axis":null},"text":{"field":"text"}}},
{"data":{"name":"scalebox"},"mark":{"type":"rect","fill":"white","stroke":"#c8c8c8","strokeWidth":1},
 "encoding":{"x":{"field":"t","type":"quantitative","scale":{"domain":[-2.19,98.08],"nice":false,"zero":false},"axis":null},"x2":{"field":"t2"},
  "y":{"field":"v","type":"quantitative","scale":{"domain":[-0.197,21.93],"nice":false,"zero":false,"reverse":true},"axis":null},"y2":{"field":"v2"}}},
{"data":{"name":"scaletext"},"mark":{"type":"text","align":"left","baseline":"middle","font":"DejaVu Sans","fontSize":12,"color":"#777777"},
 "encoding":{"x":{"field":"t","type":"quantitative","scale":{"domain":[-2.19,98.08],"nice":false,"zero":false},"axis":null},
  "y":{"field":"v","type":"quantitative","scale":{"domain":[-0.197,21.93],"nice":false,"zero":false,"reverse":true},"axis":null},"text":{"field":"text"}}}
]
}
